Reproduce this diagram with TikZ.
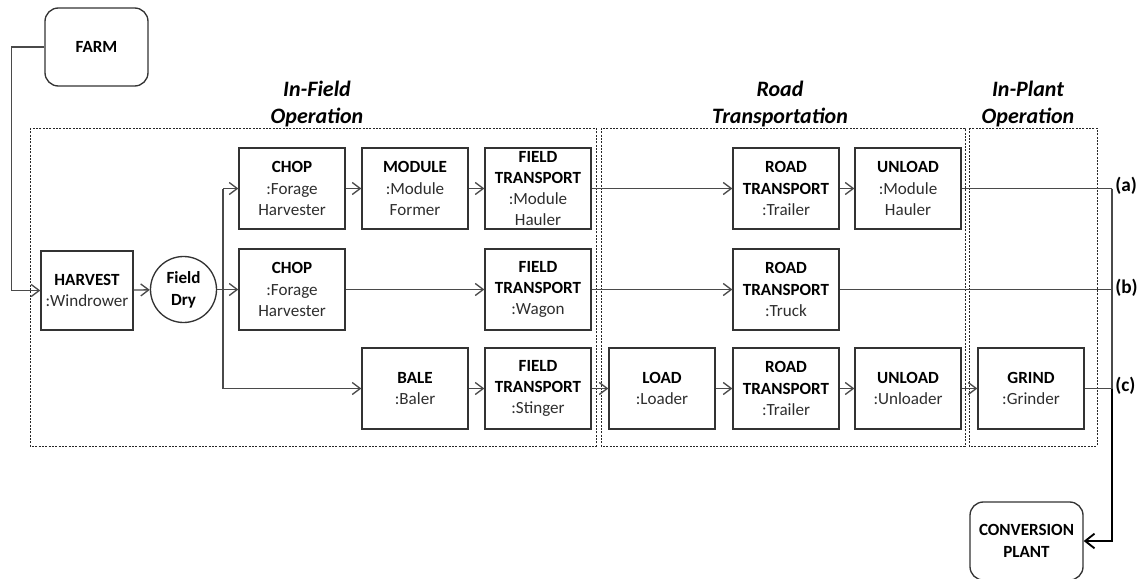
\documentclass[tikz,border=0pt]{standalone}
\usepackage{fontspec}
\setmainfont{Carlito}
\usetikzlibrary{arrows.meta}
\definecolor{linegrey}{HTML}{4A4A4A}
\definecolor{boxline}{HTML}{333333}
\definecolor{subtext}{HTML}{2E2E2E}
\tikzset{
  stage/.style={draw=boxline, line width=1pt, align=center, inner sep=0pt,
    minimum width=79.5pt, minimum height=60.75pt,
    font=\fontsize{12.8}{16}\selectfont},
  endpoint/.style={draw=boxline, line width=1pt, rounded corners=10pt, align=center,
    inner sep=0pt, minimum width=77.25pt, minimum height=58.5pt,
    font=\fontsize{12.8}{16.5}\selectfont\bfseries},
  drynode/.style={draw=boxline, line width=1pt, circle, align=center, inner sep=0pt,
    minimum size=49.5pt, font=\fontsize{12.8}{16.5}\selectfont\bfseries},
  phase/.style={draw=black!85, line width=0.6pt, dash pattern=on 1.6pt off 0.9pt},
  phaselabel/.style={align=center, font=\fontsize{16.5}{20.3}\selectfont\bfseries\itshape},
  flow/.style={draw=linegrey, line width=1pt},
  arr/.style={flow, -{Straight Barb[length=6pt,width=9pt,line width=1pt]}},
  routelabel/.style={anchor=west, inner sep=0pt, font=\fontsize{14.5}{17}\selectfont\bfseries},
  finalarr/.style={draw=black, line width=1.4pt, -{Straight Barb[length=7pt,width=11pt,line width=1.4pt]}}
}
\newcommand{\hd}[1]{\textbf{#1}}
\newcommand{\sub}[1]{{\color{subtext}#1}}
\begin{document}
\begin{tikzpicture}[x=0.75pt, y=-0.75pt]
\useasboundingbox (0,0) rectangle (1145,578);

% operation phases
\draw[phase] (30,128) rectangle (596,446);
\draw[phase] (601,128) rectangle (965,446);
\draw[phase] (969,128) rectangle (1097,446);
\node[phaselabel] (lblfield) at (317,104) {In-Field\\Operation};
\node[phaselabel] (lblroad) at (780,104) {Road\\Transportation};
\node[phaselabel] (lblplant) at (1028,104) {In-Plant\\Operation};

% sources and sink
\node[endpoint] (farm) at (96.5,47) {FARM};
\node[endpoint, minimum width=84.75pt] (conv) at (1026.5,541) {CONVERSION\\PLANT};

% in-field stages
\node[stage, minimum width=69pt, minimum height=59.25pt] (harvest) at (87,290.5) {\hd{HARVEST}\\\sub{:Windrower}};
\node[drynode] (dry) at (183.5,289.5) {Field\\Dry};
\node[stage] (chopa) at (292,188.5) {\hd{CHOP}\\\sub{:Forage}\\\sub{Harvester}};
\node[stage] (module) at (415,188.5) {\hd{MODULE}\\\sub{:Module}\\\sub{Former}};
\node[stage, font=\fontsize{12.8}{15.6}\selectfont] (fta) at (538,188.5) {\hd{FIELD}\\\hd{TRANSPORT}\\\sub{:Module}\\\sub{Hauler}};
\node[stage] (chopb) at (292,289.5) {\hd{CHOP}\\\sub{:Forage}\\\sub{Harvester}};
\node[stage] (ftb) at (538,289.5) {\hd{FIELD}\\\hd{TRANSPORT}\\\sub{:Wagon}};
\node[stage] (bale) at (415,388.5) {\hd{BALE}\\\sub{:Baler}};
\node[stage] (ftc) at (538,388.5) {\hd{FIELD}\\\hd{TRANSPORT}\\\sub{:Stinger}};

% road stages
\node[stage] (load) at (662,388.5) {\hd{LOAD}\\\sub{:Loader}};
\node[stage] (rta) at (786,188.5) {\hd{ROAD}\\\hd{TRANSPORT}\\\sub{:Trailer}};
\node[stage] (unloada) at (908,188.5) {\hd{UNLOAD}\\\sub{:Module}\\\sub{Hauler}};
\node[stage] (rtb) at (786,289.5) {\hd{ROAD}\\\hd{TRANSPORT}\\\sub{:Truck}};
\node[stage] (rtc) at (786,388.5) {\hd{ROAD}\\\hd{TRANSPORT}\\\sub{:Trailer}};
\node[stage] (unloadc) at (908,388.5) {\hd{UNLOAD}\\\sub{:Unloader}};

% in-plant stage
\node[stage] (grind) at (1031,388.5) {\hd{GRIND}\\\sub{:Grinder}};

% junction points and route labels
\coordinate (split) at (223,289.5);
\coordinate (ja) at (1112,188.5);
\coordinate (jb) at (1112,289.5);
\coordinate (jc) at (1112,388.5);
\node[routelabel] (la) at (1115,186) {(a)};
\node[routelabel] (lb) at (1115,288) {(b)};
\node[routelabel] (lc) at (1115,386) {(c)};

% connectors
\draw[arr] (farm.west) -- ++(-33,0) |- (harvest.west);
\draw[arr] (harvest) -- (dry);
\draw[arr] (dry) -- (chopb);
\draw[arr] (split |- chopa.west) -- (chopa.west);
\draw[flow] (split |- chopa.west) -- (split |- bale.west);
\draw[arr] (split |- bale.west) -- (bale.west);

\draw[arr] (chopa) -- (module);
\draw[arr] (module) -- (fta);
\draw[arr] (fta) -- (rta);
\draw[arr] (rta) -- (unloada);
\draw[flow] (unloada.east) -- (ja);

\draw[arr] (chopb) -- (ftb);
\draw[arr] (ftb) -- (rtb);
\draw[flow] (rtb.east) -- (jb);

\draw[arr] (bale) -- (ftc);
\draw[arr] (ftc) -- (load);
\draw[arr] (load) -- (rtc);
\draw[arr] (rtc) -- (unloadc);
\draw[arr] (unloadc) -- (grind);
\draw[flow] (grind.east) -- (jc);

\draw[flow] (ja) -- (jc);
\draw[finalarr] (jc) |- (conv.east);
\end{tikzpicture}
\end{document}
